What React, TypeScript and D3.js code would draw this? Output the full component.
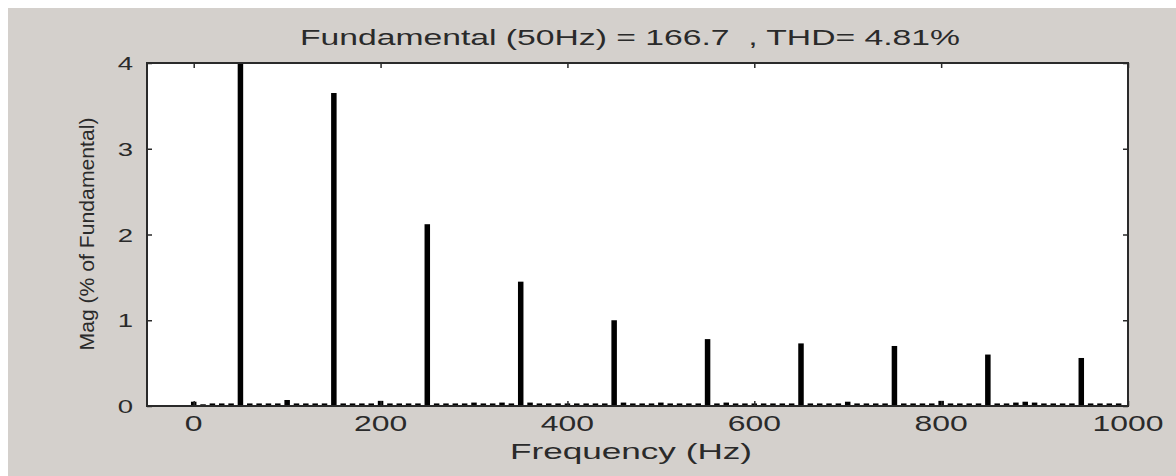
import { useRef, useEffect } from 'react'
import * as d3 from 'd3'

// FFT bins every 10 Hz, 0..990 Hz (magnitude in % of fundamental)
const freqs: number[] = d3.range(0, 1000, 10)
const mags: number[] = [
  0.05, 0.02, 0.03, 0.03, 0.03, 100, 0.03, 0.03, 0.03, 0.03,
  0.07, 0.03, 0.03, 0.03, 0.03, 3.65, 0.03, 0.03, 0.03, 0.03,
  0.06, 0.03, 0.03, 0.03, 0.03, 2.12, 0.03, 0.03, 0.03, 0.03,
  0.04, 0.03, 0.03, 0.04, 0.03, 1.45, 0.04, 0.03, 0.03, 0.03,
  0.03, 0.03, 0.03, 0.03, 0.03, 1.0, 0.04, 0.03, 0.03, 0.03,
  0.04, 0.03, 0.03, 0.03, 0.03, 0.78, 0.03, 0.04, 0.03, 0.03,
  0.03, 0.03, 0.03, 0.03, 0.03, 0.73, 0.03, 0.03, 0.03, 0.03,
  0.05, 0.03, 0.03, 0.03, 0.03, 0.70, 0.03, 0.03, 0.03, 0.03,
  0.06, 0.03, 0.03, 0.03, 0.03, 0.60, 0.03, 0.03, 0.04, 0.05,
  0.04, 0.03, 0.03, 0.03, 0.03, 0.56, 0.03, 0.03, 0.03, 0.03,
]
const xTicks = [0, 200, 400, 600, 800, 1000]
const yTicks = [0, 1, 2, 3, 4]
const title = 'Fundamental (50Hz) = 166.7  , THD= 4.81%'

export default function App() {
  const svgRef = useRef<SVGSVGElement>(null)

  useEffect(() => {
    if (!svgRef.current) return
    const svg = d3.select(svgRef.current)
    svg.selectAll('*').remove()

    const width = 1168
    const height = 468
    const margin = { top: 55, right: 48, bottom: 70, left: 139 }
    const innerW = width - margin.left - margin.right
    const innerH = height - margin.top - margin.bottom
    const font = 'Liberation Sans, Arial, sans-serif'
    const ink = '#2a2a2a'
    const stretch = 'scale(1.45,1)'

    svg.append('rect').attr('width', width).attr('height', height).style('fill', '#d4d0cc')

    const x = d3.scaleLinear().domain([-50, 1000]).range([0, innerW])
    const y = d3.scaleLinear().domain([0, 4]).range([innerH, 0])

    const g = svg.append('g').attr('transform', `translate(${margin.left},${margin.top})`)

    g.append('rect').attr('width', innerW).attr('height', innerH).style('fill', '#fff')

    g.append('clipPath').attr('id', 'plot-clip')
      .append('rect').attr('width', innerW).attr('height', innerH)

    // bars
    const barW = 5.5
    g.append('g')
      .attr('clip-path', 'url(#plot-clip)')
      .selectAll('rect')
      .data(freqs.map((f, i) => ({ f, v: mags[i] })))
      .enter()
      .append('rect')
      .attr('x', d => x(d.f) - barW / 2)
      .attr('y', d => y(Math.min(d.v, 4.2)))
      .attr('width', barW)
      .attr('height', d => innerH - y(Math.min(d.v, 4.2)))
      .style('fill', '#000')

    // axes (inward ticks, mirrored on top/right)
    const styleAxis = (sel: any) => {
      sel.select('.domain').remove()
      sel.selectAll('.tick line').style('stroke', ink).style('stroke-width', 1.5)
    }
    g.append('g').attr('transform', `translate(0,${innerH})`)
      .call(d3.axisBottom(x).tickValues(xTicks).tickSize(-5).tickFormat(() => ''))
      .call(styleAxis)
    g.append('g')
      .call(d3.axisTop(x).tickValues(xTicks).tickSize(-5).tickFormat(() => ''))
      .call(styleAxis)
    g.append('g')
      .call(d3.axisLeft(y).tickValues(yTicks).tickSize(-5).tickFormat(() => ''))
      .call(styleAxis)
    g.append('g').attr('transform', `translate(${innerW},0)`)
      .call(d3.axisRight(y).tickValues(yTicks).tickSize(-5).tickFormat(() => ''))
      .call(styleAxis)

    g.append('rect')
      .attr('width', innerW).attr('height', innerH)
      .style('fill', 'none').style('stroke', ink).style('stroke-width', 2)

    // tick labels
    g.selectAll('.xlab')
      .data(xTicks)
      .enter()
      .append('text')
      .attr('transform', d => `translate(${x(d)},${innerH + 25}) ${stretch}`)
      .attr('text-anchor', 'middle')
      .style('font-family', font)
      .style('font-size', '22px')
      .style('fill', ink)
      .text(d => d)

    g.selectAll('.ylab')
      .data(yTicks)
      .enter()
      .append('text')
      .attr('transform', d => `translate(${-14},${y(d) + 7}) ${stretch}`)
      .attr('text-anchor', 'end')
      .style('font-family', font)
      .style('font-size', '19px')
      .style('fill', ink)
      .text(d => d)

    // title and axis labels
    svg.append('text')
      .attr('x', 622)
      .attr('y', 37)
      .attr('text-anchor', 'middle')
      .attr('textLength', 660)
      .attr('lengthAdjust', 'spacingAndGlyphs')
      .style('white-space', 'pre')
      .style('font-family', font)
      .style('font-size', '22px')
      .style('fill', ink)
      .text(title)

    svg.append('text')
      .attr('x', 623)
      .attr('y', 451)
      .attr('text-anchor', 'middle')
      .attr('textLength', 242)
      .attr('lengthAdjust', 'spacingAndGlyphs')
      .style('font-family', font)
      .style('font-size', '22px')
      .style('fill', ink)
      .text('Frequency (Hz)')

    svg.append('text')
      .attr('transform', `translate(86,226) rotate(-90)`)
      .attr('text-anchor', 'middle')
      .attr('textLength', 233)
      .attr('lengthAdjust', 'spacingAndGlyphs')
      .style('font-family', font)
      .style('font-size', '21px')
      .style('fill', ink)
      .text('Mag (% of Fundamental)')
  }, [])

  return (
    <svg
      ref={svgRef}
      width={1168}
      height={468}
      style={{ position: 'absolute', left: 8, top: 8, display: 'block' }}
    />
  )
}
